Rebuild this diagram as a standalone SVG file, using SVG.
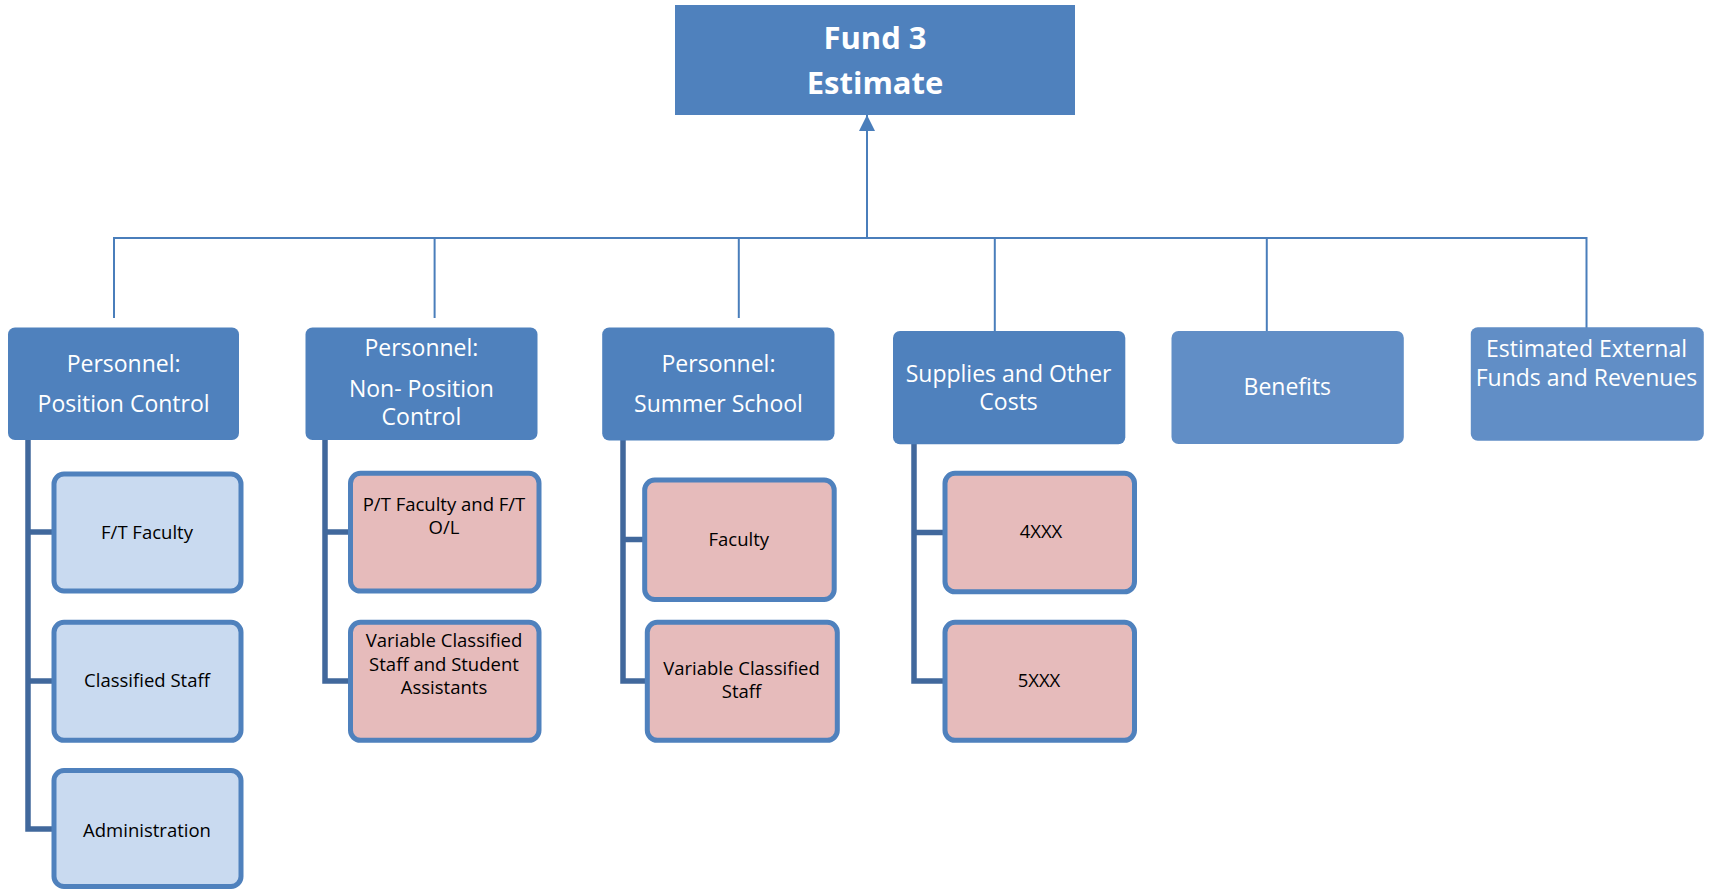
<svg xmlns="http://www.w3.org/2000/svg" width="1712" height="890" viewBox="0 0 1712 890">
<defs>
<marker id="arr" markerUnits="userSpaceOnUse" markerWidth="16" markerHeight="16" viewBox="0 0 16 16" refX="16" refY="8" orient="auto">
<path d="M0,0 L16,8 L0,16 z" fill="#4a7ebb"/>
</marker>
<style>
.top{fill:#4f81bd}
.hdr{fill:#4f81bd}
.hdr2{fill:#618ec6}
.blue{fill:#c9daf0;stroke:#4f81bd;stroke-width:5}
.pink{fill:#e6bbbb;stroke:#4f81bd;stroke-width:5}
.ttl{font-family:"Open Sans",sans-serif;font-weight:bold;font-size:31px;fill:#fff;text-anchor:middle}
.ht{font-family:"Open Sans",sans-serif;font-size:23px;fill:#fff;text-anchor:middle}
.ct{font-family:"Open Sans",sans-serif;font-size:18.5px;fill:#000;text-anchor:middle}
.thin{fill:none;stroke:#4a7ebb;stroke-width:2}
.spine{fill:none;stroke:#41689c;stroke-width:5.5}
</style>
</defs>
<g id="connectors">
<path class="thin" d="M114,318 V238 H1586.5 V333"/>
<path class="thin" d="M434.6,238 V318"/>
<path class="thin" d="M738.8,238 V318"/>
<path class="thin" d="M994.8,238 V331"/>
<path class="thin" d="M1266.8,238 V333"/>
<path class="thin" d="M867,238 V115" marker-end="url(#arr)"/>
<path class="spine" d="M28,440 V829 H52 M28,532 H52 M28,681 H52"/>
<path class="spine" d="M325,440 V681 H349 M325,532 H349"/>
<path class="spine" d="M623,440 V681 H646 M623,539.5 H643"/>
<path class="spine" d="M914,444 V681 H944 M914,532.5 H944"/>
</g>
<g id="fund3">
<rect class="top" x="675" y="5" width="400" height="110"/>
<text class="ttl" x="875" y="49">Fund 3</text>
<text class="ttl" x="875" y="94">Estimate</text>
</g>
<g id="position-control">
<rect class="hdr" x="8" y="327.5" width="231" height="112.5" rx="7"/>
<text class="ht" x="123.6" y="371.7">Personnel:</text>
<text class="ht" x="123.6" y="411.7">Position Control</text>
</g>
<g id="non-position-control">
<rect class="hdr" x="305.5" y="327.5" width="232" height="112.5" rx="7"/>
<text class="ht" x="421.4" y="356">Personnel:</text>
<text class="ht" x="421.4" y="396.7">Non- Position</text>
<text class="ht" x="421.4" y="425">Control</text>
</g>
<g id="summer-school">
<rect class="hdr" x="602.2" y="327.5" width="232.3" height="113" rx="7"/>
<text class="ht" x="718.5" y="371.7">Personnel:</text>
<text class="ht" x="718.5" y="411.7">Summer School</text>
</g>
<g id="supplies">
<rect class="hdr" x="893" y="331" width="232.3" height="113.3" rx="7"/>
<text class="ht" x="1008.6" y="381.7">Supplies and Other</text>
<text class="ht" x="1008.6" y="410">Costs</text>
</g>
<g id="benefits">
<rect class="hdr2" x="1171.5" y="331" width="232.3" height="113" rx="7"/>
<text class="ht" x="1287.3" y="395">Benefits</text>
</g>
<g id="external">
<rect class="hdr2" x="1470.8" y="327.3" width="233" height="113.4" rx="7"/>
<text class="ht" x="1586.5" y="357.3">Estimated External</text>
<text class="ht" x="1586.5" y="385.7">Funds and Revenues</text>
</g>
<g id="ft-faculty">
<rect class="blue" x="54" y="474" width="187" height="117" rx="10"/>
<text class="ct" x="147" y="539">F/T Faculty</text>
</g>
<g id="classified-staff">
<rect class="blue" x="54" y="622.3" width="187" height="118" rx="10"/>
<text class="ct" x="147" y="687">Classified Staff</text>
</g>
<g id="administration">
<rect class="blue" x="54" y="770.5" width="187" height="116" rx="10"/>
<text class="ct" x="147" y="836.7">Administration</text>
</g>
<g id="pt-faculty">
<rect class="pink" x="350.5" y="473.3" width="188.5" height="117.8" rx="10"/>
<text class="ct" x="444" y="510.7">P/T Faculty and F/T</text>
<text class="ct" x="444" y="534">O/L</text>
</g>
<g id="variable-classified-student">
<rect class="pink" x="350.5" y="622.3" width="188.5" height="118" rx="10"/>
<text class="ct" x="444" y="647.3">Variable Classified</text>
<text class="ct" x="444" y="671">Staff and Student</text>
<text class="ct" x="444" y="694.3">Assistants</text>
</g>
<g id="summer-faculty">
<rect class="pink" x="644.7" y="480" width="189.5" height="119.5" rx="10"/>
<text class="ct" x="738.8" y="546">Faculty</text>
</g>
<g id="summer-variable-classified">
<rect class="pink" x="647.3" y="622.3" width="190" height="118" rx="10"/>
<text class="ct" x="741.5" y="675.3">Variable Classified</text>
<text class="ct" x="741.5" y="698.3">Staff</text>
</g>
<g id="x4xxx">
<rect class="pink" x="945" y="473.3" width="189.5" height="118.5" rx="10"/>
<text class="ct" x="1041" y="538.3">4XXX</text>
</g>
<g id="x5xxx">
<rect class="pink" x="945" y="622.3" width="189.5" height="118" rx="10"/>
<text class="ct" x="1039" y="687.3">5XXX</text>
</g>
</svg>
